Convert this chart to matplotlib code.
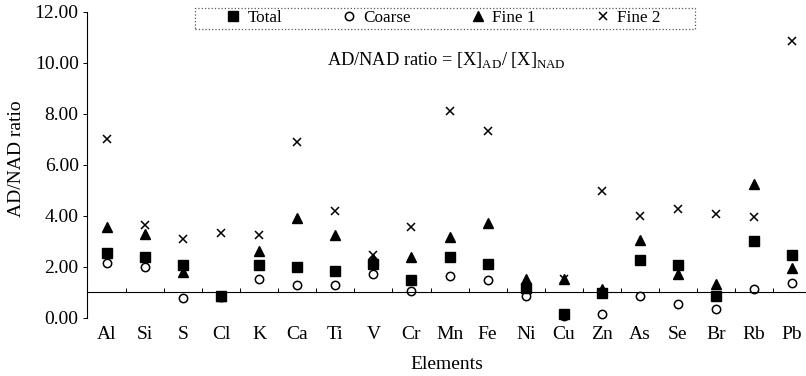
import numpy as np
import matplotlib.pyplot as plt
from matplotlib.patches import Rectangle

plt.rcParams['font.family'] = ['Liberation Serif', 'DejaVu Serif']
plt.rcParams['mathtext.fontset'] = 'custom'
plt.rcParams['mathtext.rm'] = 'Liberation Serif'

# AD/NAD ratios
elements = ['Al', 'Si', 'S', 'Cl', 'K', 'Ca', 'Ti', 'V', 'Cr', 'Mn',
            'Fe', 'Ni', 'Cu', 'Zn', 'As', 'Se', 'Br', 'Rb', 'Pb']
total = [2.54, 2.36, 2.08, 0.85, 2.08, 1.97, 1.82, 2.12, 1.47, 2.37,
         2.10, 1.14, 0.12, 0.95, 2.26, 2.07, 0.85, 3.00, 2.45]
coarse = [2.14, 1.97, 0.78, 0.80, 1.50, 1.29, 1.29, 1.69, 1.06, 1.62,
          1.46, 0.86, 0.05, 0.13, 0.83, 0.52, 0.34, 1.13, 1.36]
fine1 = [3.57, 3.28, 1.80, 0.85, 2.60, 3.92, 3.23, 2.30, 2.38, 3.18,
         3.70, 1.52, 1.50, 1.12, 3.03, 1.72, 1.33, 5.24, 1.96]
fine2 = [7.02, 3.65, 3.08, 3.31, 3.25, 6.88, 4.17, 2.47, 3.54, 8.12,
         7.33, 1.14, 1.50, 4.95, 4.00, 4.27, 4.07, 3.95, 10.86]

x = np.arange(len(elements))

fig = plt.figure(figsize=(8.06, 3.76), dpi=100)
ax = fig.add_axes([87 / 806, 1 - 317.5 / 376, 719 / 806, 305.5 / 376])

h4, = ax.plot(x, fine2, ls='none', marker='x', ms=6, mew=1.1, color='black', clip_on=False)
h2, = ax.plot(x, coarse, ls='none', marker='o', ms=6, mfc='none', mew=1.1, color='black', clip_on=False)
h3, = ax.plot(x, fine1, ls='none', marker='^', ms=7, color='black', clip_on=False)
h1, = ax.plot(x, total, ls='none', marker='s', ms=6.5, color='black', clip_on=False)

ax.set_xlim(-0.525, 18.365)
ax.set_ylim(0, 12)

# x axis crosses at ratio = 1
ax.spines['top'].set_visible(False)
ax.spines['right'].set_visible(False)
ax.spines['bottom'].set_position(('data', 1))
ax.spines['bottom'].set_linewidth(0.8)
ax.spines['left'].set_linewidth(0.8)

ax.set_xticks(x)
ax.set_xticklabels(elements)
ax.set_xticks(x[:-1] + 0.5, minor=True)
ax.tick_params(axis='x', which='major', length=0, pad=24.5, labelsize=14)
ax.tick_params(axis='x', which='minor', direction='in', length=3, width=0.7)

ax.set_yticks(np.arange(0, 13, 2))
ax.set_yticklabels(['%.2f' % v for v in np.arange(0, 13, 2)])
ax.tick_params(axis='y', length=3, width=0.7, pad=3, labelsize=14)

ax.set_xlabel('Elements', fontsize=14)
ax.xaxis.set_label_coords(0.5, -0.125)
ax.set_ylabel('AD/NAD ratio', fontsize=14)
ax.yaxis.set_label_coords(-0.086, 0.52)

ax.text(0.5, 0.843, r'AD/NAD ratio = [X]$_{\mathrm{AD}}$/ [X]$_{\mathrm{NAD}}$',
        transform=ax.transAxes, ha='center', va='center', fontsize=13.2)

leg = ax.legend([h1, h2, h3, h4], ['Total', 'Coarse', 'Fine 1', 'Fine 2'],
                ncol=4, frameon=False, loc='center left',
                bbox_to_anchor=(0.1915, 0.979), borderpad=0, borderaxespad=0,
                handlelength=1.0, handletextpad=0.35, columnspacing=3.4,
                fontsize=12.3)
ax.add_patch(Rectangle((0.150, 0.944), 0.695, 0.069, transform=ax.transAxes,
                       fill=False, edgecolor='0.35', linestyle=':', linewidth=0.9,
                       clip_on=False))

fig.savefig('out.png', dpi=100)
